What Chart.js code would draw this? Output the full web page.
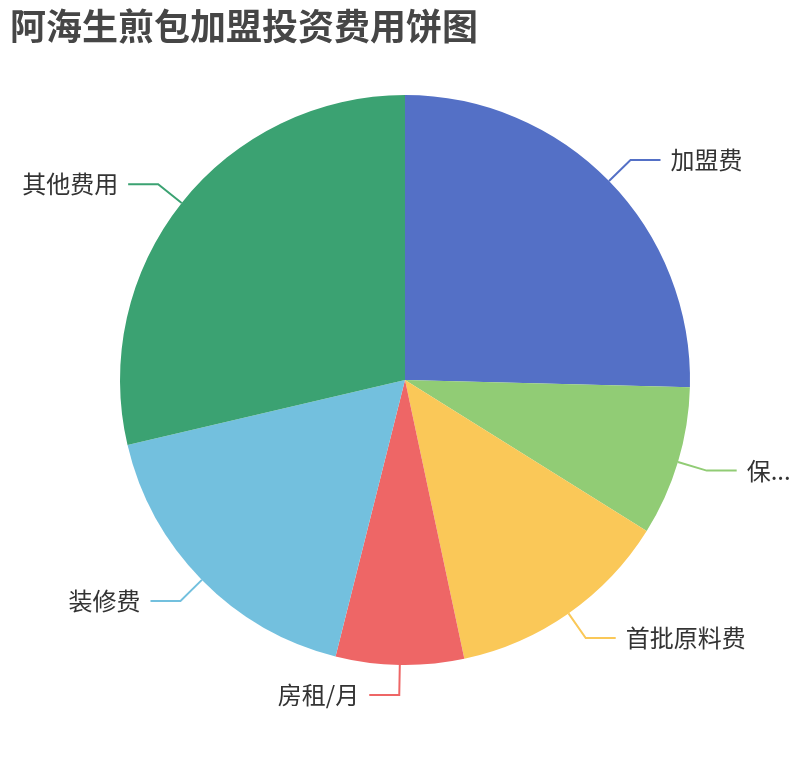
<!DOCTYPE html>
<html>
<head>
<meta charset="utf-8">
<script src="https://cdn.jsdelivr.net/npm/chart.js@4"></script>
<style>
  html, body { margin: 0; padding: 0; background: #ffffff; }
  #wrap { position: relative; width: 810px; height: 760px; }
  canvas { display: block; }
</style>
</head>
<body>
<div id="wrap"><canvas id="c" width="810" height="760"></canvas></div>
<script>
const chartTitle = '阿海生煎包加盟投资费用饼图';
const categories = ['加盟费', '保证金', '首批原料费', '房租/月', '装修费', '其他费用'];
const values = [3.5, 1.17, 1.76, 1.0, 2.4, 3.95];
const palette = ['#5470c6', '#91cc75', '#fac858', '#ee6666', '#73c0de', '#3ba272'];

const FONT = '"Noto Sans CJK SC", "Noto Sans", sans-serif';

const titlePlugin = {
  id: 'titleText',
  afterDraw(chart) {
    const ctx = chart.ctx;
    ctx.save();
    ctx.font = 'bold 36px ' + FONT;
    ctx.fillStyle = '#464646';
    ctx.textAlign = 'left';
    ctx.textBaseline = 'middle';
    ctx.fillText(chartTitle, 10, 26);
    ctx.restore();
  }
};

function truncate(ctx, text, maxW) {
  if (ctx.measureText(text).width <= maxW) return text;
  for (let n = text.length - 1; n > 0; n--) {
    const t = text.slice(0, n) + '...';
    if (ctx.measureText(t).width <= maxW) return t;
  }
  return '...';
}

const pieLabels = {
  id: 'pieLabels',
  afterDatasetsDraw(chart) {
    const ctx = chart.ctx;
    const meta = chart.getDatasetMeta(0);
    const len1 = 30, len2 = 30, gap = 10;
    ctx.save();
    ctx.font = '24px ' + FONT;
    ctx.textBaseline = 'middle';
    meta.data.forEach((arc, i) => {
      const p = arc.getProps(['x', 'y', 'startAngle', 'endAngle', 'outerRadius'], true);
      const mid = (p.startAngle + p.endAngle) / 2;
      const cx = Math.cos(mid), sy = Math.sin(mid);
      const x1 = p.x + p.outerRadius * cx, y1 = p.y + p.outerRadius * sy;
      const x2 = p.x + (p.outerRadius + len1) * cx, y2 = p.y + (p.outerRadius + len1) * sy;
      const right = cx >= 0;
      const x3 = x2 + (right ? len2 : -len2);
      ctx.strokeStyle = palette[i];
      ctx.lineWidth = 2;
      ctx.beginPath();
      ctx.moveTo(x1, y1);
      ctx.lineTo(x2, y2);
      ctx.lineTo(x3, y2);
      ctx.stroke();
      ctx.fillStyle = '#333333';
      const tx = x3 + (right ? gap : -gap);
      let text = categories[i];
      const avail = right ? chart.width - tx - 5 : tx - 5;
      text = truncate(ctx, text, avail);
      ctx.textAlign = right ? 'left' : 'right';
      ctx.fillText(text, tx, y2);
    });
    ctx.restore();
  }
};

new Chart(document.getElementById('c'), {
  type: 'pie',
  data: {
    labels: categories,
    datasets: [{
      data: values,
      backgroundColor: palette,
      borderWidth: 0,
      hoverOffset: 0
    }]
  },
  options: {
    responsive: false,
    animation: false,
    devicePixelRatio: 1,
    layout: { padding: { left: 120, right: 120, top: 95, bottom: 95 } },
    plugins: {
      legend: { display: false },
      tooltip: { enabled: false },
      title: { display: false }
    }
  },
  plugins: [pieLabels, titlePlugin]
});
</script>
</body>
</html>
